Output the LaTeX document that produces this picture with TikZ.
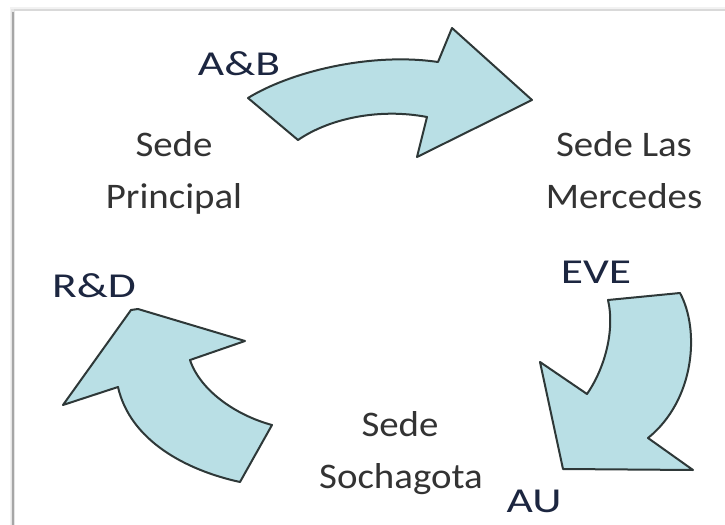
\documentclass[tikz,border=0pt]{standalone}
\usepackage{fontspec}
\setmainfont{Carlito}
\definecolor{arrowfill}{HTML}{B9DFE5}
\definecolor{arrowline}{HTML}{2E3838}
\definecolor{sedetext}{HTML}{333333}
\definecolor{labeltext}{HTML}{1C2640}
\begin{document}
\begin{tikzpicture}[x=0.5pt,y=-0.5pt,
  cyclearrow/.style={fill=arrowfill,draw=arrowline,line width=1pt,line join=round},
  sedeline/.style={anchor=base,inner sep=0pt,text=sedetext,font=\fontsize{18pt}{22pt}\selectfont,xscale=1.08},
  sitelabel/.style={anchor=base,inner sep=0pt,text=labeltext,font=\fontsize{17.5pt}{21pt}\selectfont,xscale=1.3}]
\useasboundingbox (0,0) rectangle (725,525);
% frame with shadow
\fill[black!5] (10,7) rectangle (725,525);
\fill[black!10] (11,9) rectangle (725,525);
\fill[white] (15,11) rectangle (725,525);
\draw[black!35,line width=1pt] (12.5,12) -- (12.5,525);
\draw[black!15,line width=0.6pt] (14,10) -- (725,10);
% top arrow (Sede Principal -> Sede Las Mercedes)
\draw[cyclearrow] (248,98) .. controls (290,72) and (370,52) .. (438,62)
  -- (452,28) -- (532,100) -- (417,157) -- (427,117)
  .. controls (380,108) and (330,118) .. (298,140) -- cycle;
% right arrow (Sede Las Mercedes -> Sede Sochagota)
\draw[cyclearrow] (608,300) -- (680,293)
  .. controls (700,330) and (695,400) .. (648,438)
  -- (693,470) -- (563,469) -- (540,362) -- (587,394)
  .. controls (605,368) and (615,330) .. (608,300) -- cycle;
% left arrow (Sede Sochagota -> Sede Principal)
\draw[cyclearrow] (131,310) -- (138,309) -- (245,341) -- (190,360)
  .. controls (200,390) and (235,415) .. (272,425)
  -- (240,482) .. controls (185,470) and (130,440) .. (118,387)
  -- (63,405) -- cycle;
% site names
\node[sedeline] (p1) at (174,156) {Sede};
\node[sedeline] (p2) at (174,208) {Principal};
\node[sedeline] (m1) at (624,156) {Sede Las};
\node[sedeline] (m2) at (624,208) {Mercedes};
\node[sedeline] (s1) at (400,436) {Sede};
\node[sedeline] (s2) at (401,488) {Sochagota};
% labels
\node[sitelabel] (ab) at (239,75) {A\&B};
\node[sitelabel] (eve) at (596,283) {EVE};
\node[sitelabel] (rd) at (94,297) {R\&D};
\node[sitelabel] (au) at (534,512) {AU};
\end{tikzpicture}
\end{document}
